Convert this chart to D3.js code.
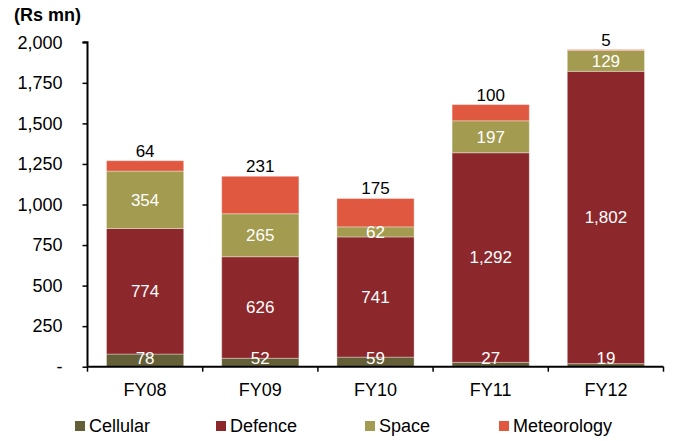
<!DOCTYPE html>
<html>
<head>
<meta charset="utf-8">
<script src="https://cdn.jsdelivr.net/npm/d3@7"></script>
<style>
  html, body { margin: 0; padding: 0; background: #fff; }
  svg { display: block; font-family: "Liberation Sans", Arial, sans-serif; }
</style>
</head>
<body>
<svg id="chart" width="673" height="441"></svg>
<script>
// ---- Data ----
const categories = ["FY08", "FY09", "FY10", "FY11", "FY12"];
const seriesNames = ["Cellular", "Defence", "Space", "Meteorology"];
const cellular    = [78, 52, 59, 27, 19];
const defence     = [774, 626, 741, 1292, 1802];
const space       = [354, 265, 62, 197, 129];
const meteorology = [64, 231, 175, 100, 5];
const yTicks = [0, 250, 500, 750, 1000, 1250, 1500, 1750, 2000];
const unitLabel = "(Rs mn)";

const colors = {
  Cellular: "#655f37",
  Defence: "#8c272b",
  Space: "#a39b4f",
  Meteorology: "#e15841"
};

const rows = categories.map((c, i) => ({
  cat: c,
  Cellular: cellular[i],
  Defence: defence[i],
  Space: space[i],
  Meteorology: meteorology[i]
}));

const svg = d3.select("#chart");
const AXIS_FONT = 18;
const LABEL_FONT = 17;

const x = d3.scaleBand()
  .domain(categories)
  .range([87.5, 663.5])
  .paddingInner(0.33)
  .paddingOuter(0.165);

const y = d3.scaleLinear().domain([0, 2000]).range([366.7, 42.3]);

const stack = d3.stack().keys(seriesNames);
const stacked = stack(rows);

// ---- Bars ----
const gBars = svg.append("g");
stacked.forEach(layer => {
  gBars.selectAll(null)
    .data(layer)
    .join("rect")
    .attr("x", d => x(d.data.cat))
    .attr("width", x.bandwidth())
    .attr("y", d => y(d[1]))
    .attr("height", d => y(d[0]) - y(d[1]))
    .attr("fill", colors[layer.key])
    .attr("stroke", "rgba(255,255,255,0.35)")
    .attr("stroke-width", 1);
});

// ---- Axes ----
const fmt = d3.format(",");
const yAxis = d3.axisLeft(y)
  .tickValues(yTicks)
  .tickSize(5)
  .tickPadding(20)
  .tickFormat(d => d === 0 ? "-" : fmt(d));

const gy = svg.append("g")
  .attr("transform", `translate(${x.range()[0]},0)`)
  .call(yAxis);
gy.select(".domain").attr("stroke", "#000").attr("stroke-width", 2)
  .attr("d", `M-5,${y(2000)}H0V${y(0)}`);
gy.selectAll(".tick line").attr("stroke", "#000").attr("stroke-width", 1.5);
gy.selectAll(".tick text")
  .attr("fill", "#000")
  .style("font-size", AXIS_FONT + "px")
  .style("font-family", '"Liberation Sans", Arial, sans-serif');

const xAxis = d3.axisBottom(x).tickSize(0).tickPadding(17);
const gx = svg.append("g")
  .attr("transform", `translate(0,${y(0)})`)
  .call(xAxis);
gx.select(".domain").attr("stroke", "#000").attr("stroke-width", 2)
  .attr("d", `M${x.range()[0]},0H${x.range()[1]}`);
gx.selectAll(".tick text")
  .attr("fill", "#000")
  .style("font-size", AXIS_FONT + "px")
  .style("font-family", '"Liberation Sans", Arial, sans-serif');

// boundary ticks between categories
const step = x.step();
const bounds = d3.range(categories.length + 1).map(i => x.range()[0] + i * step);
gx.selectAll(".btick")
  .data(bounds)
  .join("line")
  .attr("x1", d => d).attr("x2", d => d)
  .attr("y1", 0).attr("y2", 5)
  .attr("stroke", "#000").attr("stroke-width", 1.5);

// ---- Value labels ----
const gLab = svg.append("g")
  .style("font-size", LABEL_FONT + "px")
  .attr("text-anchor", "middle");

stacked.forEach(layer => {
  const key = layer.key;
  gLab.selectAll(null)
    .data(layer)
    .join("text")
    .attr("x", d => x(d.data.cat) + x.bandwidth() / 2)
    .attr("y", d => {
      if (key === "Meteorology") return y(d[1]) - 10;
      if (key === "Cellular") return y(0) - 9;
      return (y(d[0]) + y(d[1])) / 2;
    })
    .attr("dy", "0.35em")
    .attr("fill", key === "Meteorology" ? "#000" : "#fff")
    .text(d => fmt(d.data[key]));
});

// ---- Unit label ----
svg.append("text")
  .attr("x", 14)
  .attr("y", 21)
  .style("font-size", AXIS_FONT + "px")
  .style("font-weight", "bold")
  .attr("fill", "#000")
  .text(unitLabel);

// ---- Legend ----
const legendX = [75, 216, 365, 499];
const gLeg = svg.append("g");
seriesNames.forEach((name, i) => {
  const g = gLeg.append("g").attr("transform", `translate(${legendX[i]},421)`);
  g.append("rect").attr("width", 10).attr("height", 10).attr("fill", colors[name]);
  g.append("text")
    .attr("x", 14)
    .attr("y", 5)
    .attr("dy", "0.35em")
    .style("font-size", AXIS_FONT + "px")
    .attr("fill", "#000")
    .text(name);
});
</script>
</body>
</html>
